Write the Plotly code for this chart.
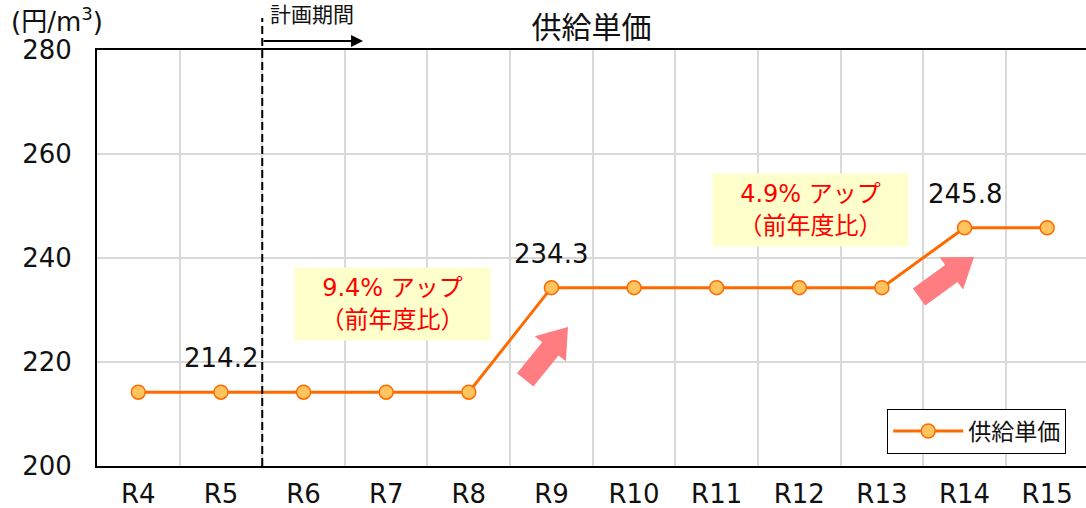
import numpy as np
import plotly.graph_objects as go

categories = ["R4", "R5", "R6", "R7", "R8", "R9", "R10", "R11", "R12", "R13", "R14", "R15"]
unit_price = [214.2, 214.2, 214.2, 214.2, 214.2, 234.3, 234.3, 234.3, 234.3, 234.3, 245.8, 245.8]
label_points = ["R5", "R9", "R14"]
series_name = "供給単価"
y_ticks = [200, 220, 240, 260, 280]
rise_notes = [("R7", 231.2, "9.4% アップ<br>（前年度比）"), ("R12", 249.2, "4.9% アップ<br>（前年度比）")]

FONT = "DejaVu Sans, Noto Sans CJK JP"
ORANGE = "#FF6A00"
TXT = "#111111"

fig = go.Figure()
fig.add_trace(go.Scatter(
    x=categories, y=unit_price, mode="lines+markers", name=series_name,
    line=dict(color=ORANGE, width=3),
    marker=dict(size=14, color="#FFC45E", line=dict(color=ORANGE, width=1.5)),
))

annotations = []
for c in label_points:
    v = unit_price[categories.index(c)]
    annotations.append(dict(x=c, y=v, xref="x", yref="y", text=f"{v:.1f}", showarrow=False,
                            yshift=34, font=dict(size=26, color=TXT, family=FONT)))

note_shift = [0.08, 0.13]
for (c, yv, txt), sh in zip(rise_notes, note_shift):
    annotations.append(dict(x=categories.index(c) + sh, y=yv, xref="x", yref="y", text=txt,
                            showarrow=False, bgcolor="#FFFFCC", width=195, height=72, borderpad=0,
                            font=dict(size=24, color="#FF0000", family=FONT)))

# unit label
annotations.append(dict(x=-0.0404, y=1.072, xref="paper", yref="paper", text="(円/m<sup>3</sup>)",
                        showarrow=False, xanchor="center", yanchor="middle",
                        font=dict(size=26, color=TXT, family=FONT)))
# planning period
annotations.append(dict(x=1.57, y=1.084, xref="x", yref="paper", text="計画期間", showarrow=False,
                        xanchor="left", yanchor="middle", font=dict(size=21, color=TXT, family=FONT)))
annotations.append(dict(x=2.72, y=1.0216, xref="x", yref="paper", text="", showarrow=True,
                        ax=-101, ay=0, arrowhead=2, arrowsize=1.2, arrowwidth=2, arrowcolor="#000000"))

shapes = [dict(type="line", xref="x", yref="paper", x0=1.5, x1=1.5, y0=0, y1=1.077,
               line=dict(color="#000000", width=2, dash="8px,4px"))]

# block arrows (pixel-sized)
def block_arrow(tip_px, angle_deg, L=68, shaft=21, head=40, hl=28):
    a = np.deg2rad(angle_deg)
    u = np.array([np.cos(a), np.sin(a)])
    v = np.array([-np.sin(a), np.cos(a)])
    pts_local = [(-L, shaft / 2), (-hl, shaft / 2), (-hl, head / 2), (0, 0),
                 (-hl, -head / 2), (-hl, -shaft / 2), (-L, -shaft / 2)]
    pts = [p * u + q * v for p, q in pts_local]
    path = "M " + " L ".join(f"{x:.1f},{y:.1f}" for x, y in pts) + " Z"
    xa = (tip_px[0] - 97) / 989
    ya = (466 - tip_px[1]) / 416
    return dict(type="path", xref="paper", yref="paper", xsizemode="pixel", ysizemode="pixel",
                xanchor=xa, yanchor=ya, path=path, fillcolor="#FF7C80", line=dict(width=0))

shapes.append(block_arrow((568, 327), 51))
shapes.append(block_arrow((974, 257), 36))

fig.update_layout(
    width=1086, height=508,
    margin=dict(l=97, r=0, t=50, b=42),
    paper_bgcolor="white", plot_bgcolor="white",
    font=dict(family=FONT, color=TXT),
    title=dict(text="供給単価", x=0.5, xref="paper", y=1 - 27 / 508, yref="container",
               xanchor="center", yanchor="middle", font=dict(size=30, color=TXT, family=FONT)),
    xaxis=dict(type="category", range=[-0.5, 11.47], tickson="boundaries", showgrid=True,
               gridcolor="#D9D9D9", gridwidth=1.5, showline=True, linecolor="#000000", linewidth=2,
               mirror=True, ticks="", tickfont=dict(size=26, color=TXT), ticklabelstandoff=4,
               automargin=False),
    yaxis=dict(range=[200, 280], tickvals=y_ticks, showgrid=True, gridcolor="#D9D9D9", gridwidth=1.5,
               showline=True, linecolor="#000000", linewidth=2, zeroline=False, ticks="",
               tickfont=dict(size=26, color=TXT), ticklabelstandoff=18, automargin=False),
    legend=dict(x=0.98, y=0.03, xanchor="right", yanchor="bottom", bgcolor="white",
                bordercolor="#000000", borderwidth=1, font=dict(size=23, color=TXT),
                itemwidth=70),
    showlegend=True,
    annotations=annotations,
    shapes=shapes,
)

fig.write_html("out.html", config={"displayModeBar": False},
               post_script="document.body.style.margin='0';")
